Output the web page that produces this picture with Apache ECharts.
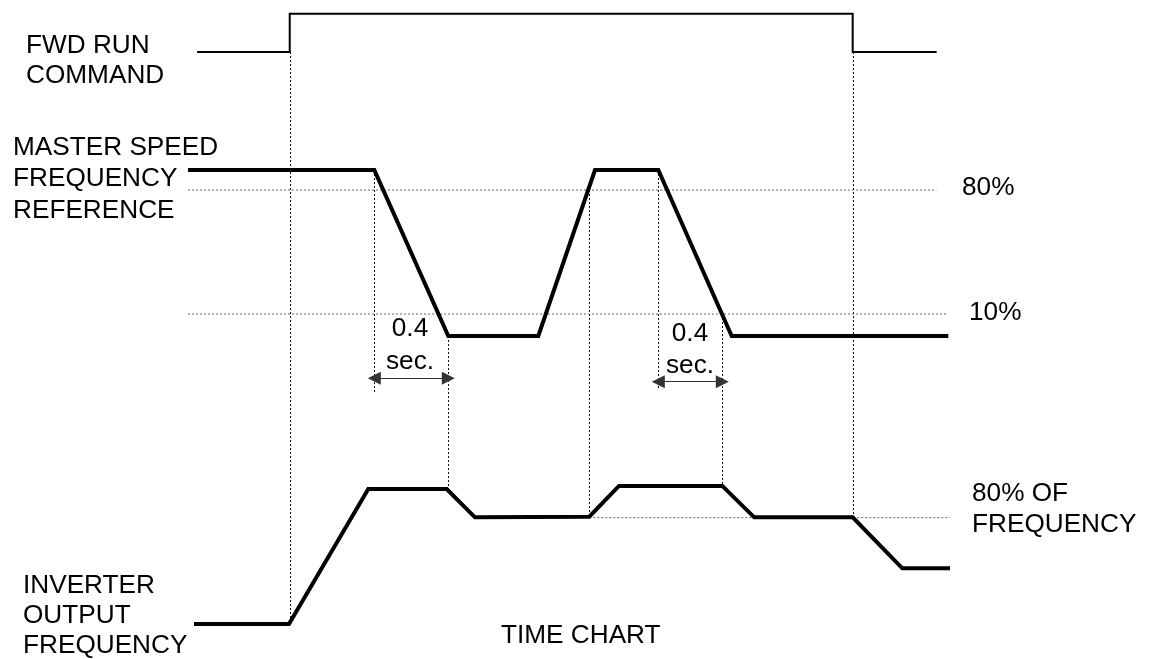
<!DOCTYPE html>
<html>
<head>
<meta charset="utf-8">
<title>Time chart</title>
<script src="https://cdn.jsdelivr.net/npm/echarts@6/dist/echarts.min.js"></script>
<style>
  html, body { margin: 0; padding: 0; background: #fff; }
  #chart { width: 1150px; height: 659px; }
</style>
</head>
<body>
<div id="chart"></div>
<script>
// time axis is in arbitrary units 0..100, levels in percent
const timeFwd = [1.2, 13.35, 13.35, 87.23, 87.23, 98.25]
const levelFwd = [0, 0, 1, 1, 0, 0]

const timeRef = [0, 24.45, 34.16, 45.97, 53.41, 61.72, 71.35, 99.78]
const levelRef = [91.3, 91.3, -2.4, -2.4, 91.3, 91.3, -2.4, -2.4]

const timeOut = [0.79, 13.25, 23.66, 33.95, 37.66, 52.66, 56.56, 70.12, 74.31, 87.23, 93.74, 100]
const levelOut = [0, 0, 101.5, 101.5, 80.2, 80.7, 103.8, 103.8, 80.2, 80.2, 41.9, 41.9]

// dotted reference levels
const refLevels = [80, 10]
const refLevelEnds = [98.2, 99.5]
const outRefLevel = 80
const outRefStart = 52.66

// vertical guides: time, [grid, level] from, [grid, level] to
const guideTimes = [13.35, 24.45, 34.16, 52.66, 61.72, 70.12, 87.23]
const guideFrom = [[0, 0], [1, 91.3], [1, -2.4], [1, 80], [1, 91.3], [1, 10], [0, 0]]
const guideTo = [[2, 0], [1, -34], [2, 101.5], [2, 80], [1, -32.9], [2, 103.8], [2, 80]]

// 0.4 sec spans
const spanStart = [24.45, 61.72]
const spanEnd = [34.16, 70.12]
const spanLevel = [-26.3, -28.2]

const FONT = 'Liberation Sans, Arial, sans-serif'
const FS = 26.2

let myChart = echarts.init(document.getElementById('chart'), null, { renderer: 'canvas' })

function zip(xs, ys) {
    return xs.map((x, i) => [x, ys[i]])
}

function label(text, x, baseline, align) {
    return {
        type: 'text',
        x: x,
        y: baseline - 8.8,
        silent: true,
        style: {
            text: text,
            fontSize: FS,
            fontFamily: FONT,
            fill: '#000',
            align: align || 'left',
            verticalAlign: 'middle'
        }
    }
}

let texts = [
    label('FWD RUN', 26, 55),
    label('COMMAND', 26, 85),
    label('MASTER SPEED', 13, 157),
    label('FREQUENCY', 13, 188),
    label('REFERENCE', 13, 220),
    label('80%', 962, 197),
    label('10%', 969, 322),
    label('80% OF', 972, 503),
    label('FREQUENCY', 972, 534),
    label('INVERTER', 23, 595),
    label('OUTPUT', 23, 625),
    label('FREQUENCY', 23, 655),
    label('TIME CHART', 501, 645),
    label('0.4', 410, 338, 'center'),
    label('sec.', 410, 371, 'center'),
    label('0.4', 690, 343, 'center'),
    label('sec.', 690, 375, 'center')
]

let dotted = { color: '#666', width: 1, type: [2, 2] }

let seriesData = []
seriesData.push({
    type: 'line', xAxisIndex: 0, yAxisIndex: 0, data: zip(timeFwd, levelFwd),
    symbol: 'none', clip: false,
    lineStyle: { color: '#000', width: 2, join: 'miter' }
})
for (let i = 0; i < refLevels.length; i++) {
    seriesData.push({
        type: 'line', xAxisIndex: 1, yAxisIndex: 1, symbol: 'none', clip: false, z: 1,
        data: [[0, refLevels[i]], [refLevelEnds[i], refLevels[i]]],
        lineStyle: dotted
    })
}
seriesData.push({
    type: 'line', xAxisIndex: 1, yAxisIndex: 1, data: zip(timeRef, levelRef),
    symbol: 'none', clip: false,
    lineStyle: { color: '#000', width: 4, join: 'miter' },
    markLine: {
        silent: true,
        symbol: ['triangle', 'triangle'],
        symbolSize: 13,
        label: { show: false },
        itemStyle: { color: '#000' },
        lineStyle: { color: '#333', width: 1.2, type: 'solid' },
        data: spanStart.map((s, i) => [
            { coord: [s, spanLevel[i]] },
            { coord: [spanEnd[i], spanLevel[i]] }
        ])
    }
})
seriesData.push({
    type: 'line', xAxisIndex: 2, yAxisIndex: 2, symbol: 'none', clip: false, z: 1,
    data: [[outRefStart, outRefLevel], [100, outRefLevel]],
    lineStyle: dotted
})
seriesData.push({
    type: 'line', xAxisIndex: 2, yAxisIndex: 2, data: zip(timeOut, levelOut),
    symbol: 'none', clip: false,
    lineStyle: { color: '#000', width: 4, join: 'miter' }
})

function timeAxis(idx) {
    return { type: 'value', gridIndex: idx, min: 0, max: 100, show: false }
}

let option = {
    animation: false,
    backgroundColor: '#fff',
    grid: [
        { left: 188, width: 762, top: 13.7, height: 38.3 },
        { left: 188, width: 762, top: 154.6, height: 248 },
        { left: 188, width: 762, top: 477.7, height: 146.3 }
    ],
    xAxis: [timeAxis(0), timeAxis(1), timeAxis(2)],
    yAxis: [
        { type: 'value', gridIndex: 0, min: 0, max: 1, show: false },
        { type: 'value', gridIndex: 1, min: -40, max: 100, show: false },
        { type: 'value', gridIndex: 2, min: 0, max: 110, show: false }
    ],
    graphic: texts,
    series: seriesData
}

myChart.setOption(option)

// vertical dotted guides that cross between the three rows
let guides = guideTimes.map((t, i) => {
    let p1 = myChart.convertToPixel({ gridIndex: guideFrom[i][0] }, [t, guideFrom[i][1]])
    let p2 = myChart.convertToPixel({ gridIndex: guideTo[i][0] }, [t, guideTo[i][1]])
    let x = Math.round(p1[0]) + 0.5
    return {
        type: 'line', silent: true, z: -1,
        shape: { x1: x, y1: p1[1], x2: x, y2: p2[1] },
        style: { stroke: '#111', lineWidth: 1, lineDash: [2, 2] }
    }
})
myChart.setOption({ graphic: texts.concat(guides) })

window.addEventListener('resize', function () {
    myChart.resize()
})
</script>
</body>
</html>
